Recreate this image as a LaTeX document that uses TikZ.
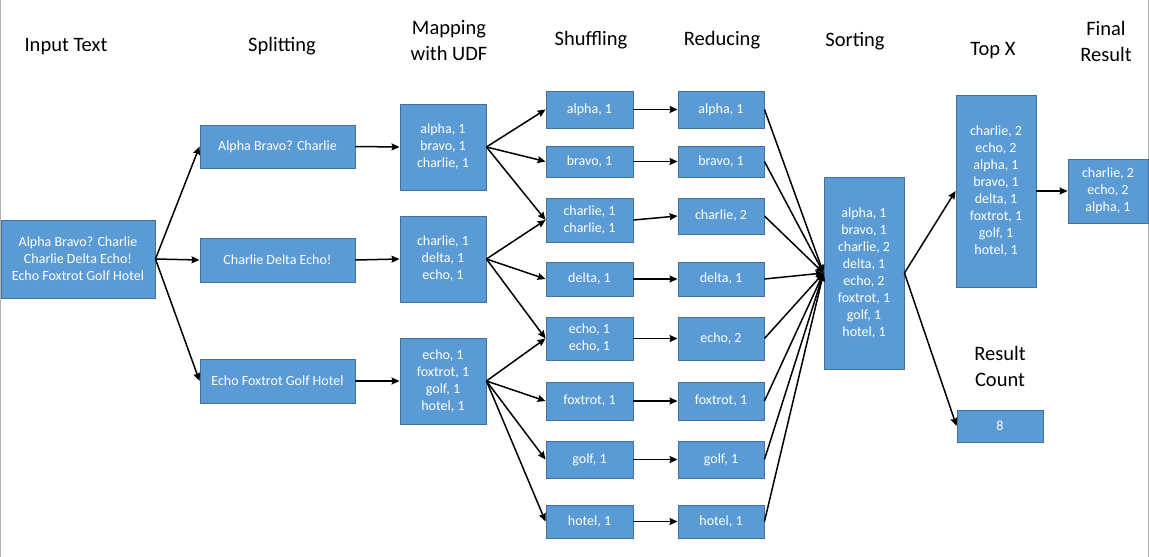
\documentclass[tikz,border=0pt]{standalone}
\usepackage{fontspec}
\setmainfont{Carlito}
\usetikzlibrary{arrows.meta}
\definecolor{boxfill}{HTML}{5B9BD5}
\definecolor{boxline}{HTML}{41719C}
\tikzset{
  bx/.style={draw=boxline, fill=boxfill, line width=0.9pt, text=white, inner sep=0pt,
    align=center, font=\fontsize{14}{17}\selectfont},
  ttl/.style={align=center, font=\fontsize{20.5}{26}\selectfont, text=black},
  arr/.style={-{Stealth[length=8pt,width=7pt,inset=1pt]}, line width=1.5pt, black},
  ln/.style={line width=1.5pt, black},
}
\begin{document}
\begin{tikzpicture}[x=1pt,y=-1pt]
\useasboundingbox (0,0) rectangle (1149,557);
\fill[white] (0,0) rectangle (1149,557);
\draw[gray!60, line width=1pt] (0.5,0) -- (0.5,557);
\draw[gray!60, line width=1pt] (1148,0) -- (1148,557);
% titles
\node[ttl] (t1) at (66,47) {Input Text};
\node[ttl] (t2) at (282,46) {Splitting};
\node[ttl] (t3) at (449,41) {Mapping\\with UDF};
\node[ttl] (t4) at (591,40) {Shuffling};
\node[ttl] (t5) at (722,40) {Reducing};
\node[ttl] (t6) at (855,41) {Sorting};
\node[ttl] (t7) at (993,51) {Top X};
\node[ttl] (t8) at (1106,41) {Final\\Result};
\node[ttl] (t9) at (1000,366) {Result\\Count};
% input
\node[bx, minimum width=154, minimum height=78] (in) at (78,259) {Alpha Bravo? Charlie\\Charlie Delta Echo!\\Echo Foxtrot Golf Hotel};
% splitting
\node[bx, minimum width=155, minimum height=43] (s1) at (277.5,146.5) {Alpha Bravo? Charlie};
\node[bx, minimum width=155, minimum height=44] (s2) at (277.5,260) {Charlie Delta Echo!};
\node[bx, minimum width=155, minimum height=44] (s3) at (277.5,381) {Echo Foxtrot Golf Hotel};
% mapping
\node[bx, minimum width=86, minimum height=86] (m1) at (443,147) {alpha, 1\\bravo, 1\\charlie, 1};
\node[bx, minimum width=86, minimum height=86] (m2) at (443,259) {charlie, 1\\delta, 1\\echo, 1};
\node[bx, minimum width=86, minimum height=86] (m3) at (443,381) {echo, 1\\foxtrot, 1\\golf, 1\\hotel, 1};
% shuffling
\node[bx, minimum width=87, minimum height=37] (sa) at (589.5,109.5) {alpha, 1};
\node[bx, minimum width=87, minimum height=31] (sb) at (589.5,161.5) {bravo, 1};
\node[bx, minimum width=87, minimum height=44] (sc) at (589.5,220) {charlie, 1\\charlie, 1};
\node[bx, minimum width=87, minimum height=34] (sd) at (589.5,279) {delta, 1};
\node[bx, minimum width=87, minimum height=43] (se) at (589.5,338.5) {echo, 1\\echo, 1};
\node[bx, minimum width=87, minimum height=38] (sf) at (589.5,401) {foxtrot, 1};
\node[bx, minimum width=87, minimum height=37] (sg) at (589.5,459.5) {golf, 1};
\node[bx, minimum width=87, minimum height=33] (sh) at (589.5,521.5) {hotel, 1};
% reducing
\node[bx, minimum width=86, minimum height=37] (ra) at (721,109.5) {alpha, 1};
\node[bx, minimum width=86, minimum height=31] (rb) at (721,161.5) {bravo, 1};
\node[bx, minimum width=86, minimum height=36] (rc) at (721,216) {charlie, 2};
\node[bx, minimum width=86, minimum height=34] (rd) at (721,279) {delta, 1};
\node[bx, minimum width=86, minimum height=43] (re) at (721,338.5) {echo, 2};
\node[bx, minimum width=86, minimum height=38] (rf) at (721,401) {foxtrot, 1};
\node[bx, minimum width=86, minimum height=37] (rg) at (721,459.5) {golf, 1};
\node[bx, minimum width=86, minimum height=33] (rh) at (721,521.5) {hotel, 1};
% sorting
\node[bx, minimum width=80, minimum height=192] (so) at (864,273) {alpha, 1\\bravo, 1\\charlie, 2\\delta, 1\\echo, 2\\foxtrot, 1\\golf, 1\\hotel, 1};
% top x
\node[bx, minimum width=80, minimum height=192] (tx) at (996,191) {charlie, 2\\echo, 2\\alpha, 1\\bravo, 1\\delta, 1\\foxtrot, 1\\golf, 1\\hotel, 1};
% final
\node[bx, minimum width=80, minimum height=64] (fr) at (1108,191) {charlie, 2\\echo, 2\\alpha, 1};
% result count
\node[bx, minimum width=86, minimum height=32] (rc8) at (1000,426) {8};
% connectors
\draw[arr] (in.east) -- (s1.west);
\draw[arr] (in.east) -- (s2.west);
\draw[arr] (in.east) -- (s3.west);
\draw[arr] (s1.east) -- (m1.west);
\draw[arr] (s2.east) -- (m2.west);
\draw[arr] (s3.east) -- (m3.west);
\draw[arr] (m1.east) -- (sa.west);
\draw[arr] (m1.east) -- (sb.west);
\draw[arr] (m1.east) -- (sc.west);
\draw[arr] (m2.east) -- (sc.west);
\draw[arr] (m2.east) -- (sd.west);
\draw[arr] (m2.east) -- (se.west);
\draw[arr] (m3.east) -- (se.west);
\draw[arr] (m3.east) -- (sf.west);
\draw[arr] (m3.east) -- (sg.west);
\draw[arr] (m3.east) -- (sh.west);
\draw[arr] (sa.east) -- (ra.west);
\draw[arr] (sb.east) -- (rb.west);
\draw[arr] (sc.east) -- (rc.west);
\draw[arr] (sd.east) -- (rd.west);
\draw[arr] (se.east) -- (re.west);
\draw[arr] (sf.east) -- (rf.west);
\draw[arr] (sg.east) -- (rg.west);
\draw[arr] (sh.east) -- (rh.west);
\foreach \r in {ra,rb,rc,rd,re,rf,rg,rh} {
  \draw[arr] (\r.east) -- (so.west);
}
\draw[arr] (so.east) -- (tx.west);
\draw[arr] (so.east) -- (rc8.west);
\draw[arr] (tx.east) -- (fr.west);
\end{tikzpicture}
\end{document}
